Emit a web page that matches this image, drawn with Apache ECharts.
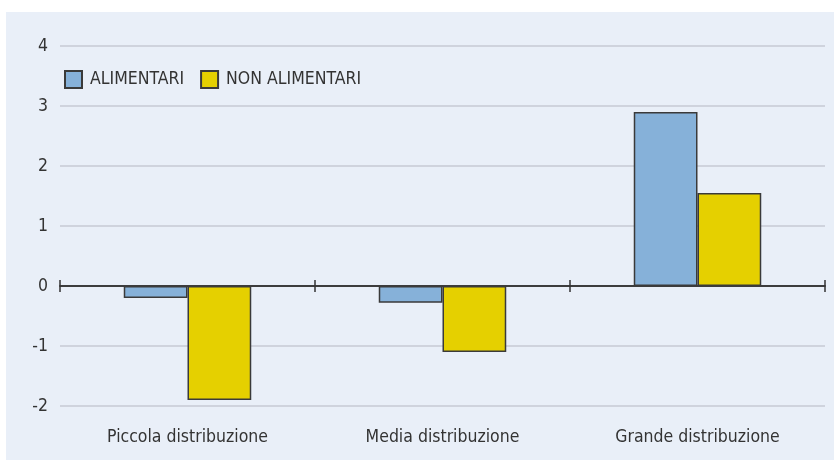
<!DOCTYPE html>
<html>
<head>
<meta charset="utf-8">
<script src="https://cdn.jsdelivr.net/npm/echarts@6/dist/echarts.min.js"></script>
<style>
  html, body { margin: 0; padding: 0; background: #fff; }
  #main { width: 834px; height: 460px; }
</style>
</head>
<body>
<div id="main"></div>
<script>
var categories = ['Piccola distribuzione', 'Media distribuzione', 'Grande distribuzione'];
var alimentari = [-0.2, -0.28, 2.9];
var nonAlimentari = [-1.9, -1.1, 1.55];
var yMin = -2, yMax = 4, yStep = 1;

var FONT = '"DejaVu Sans Condensed", "Liberation Sans", sans-serif';
var TEXT = '#333';
var AXIS = '#333';

var gridPos = { left: 60, right: 9, top: 46, bottom: 54 };

// the zero line carries ticks on both sides, so it is drawn by two extra grids
function zeroAxis(idx, inside) {
  return {
    type: 'category',
    gridIndex: idx,
    data: categories,
    axisLine: { onZero: true, lineStyle: { color: AXIS, width: 1.5 } },
    axisTick: { show: true, inside: inside, length: 6, lineStyle: { color: AXIS, width: 1.5 } },
    axisLabel: { show: false },
    splitLine: { show: false }
  };
}
function hiddenY(idx) {
  return {
    type: 'value', gridIndex: idx, min: yMin, max: yMax, interval: yStep,
    axisLine: { show: false }, axisTick: { show: false },
    axisLabel: { show: false }, splitLine: { show: false }
  };
}

var myChart = echarts.init(document.getElementById('main'));
var option = {
  backgroundColor: '#fff',
  animation: false,
  graphic: [{
    type: 'rect',
    z: -10,
    shape: { x: 6, y: 12, width: 828, height: 448 },
    style: { fill: '#e9eff8' }
  }],
  legend: {
    left: 64,
    top: 70,
    padding: 0,
    itemWidth: 17,
    itemHeight: 17,
    itemGap: 16,
    icon: 'rect',
    textStyle: { fontFamily: FONT, fontSize: 17.5, color: TEXT, padding: [0, 0, 0, 3] },
    data: ['ALIMENTARI', 'NON ALIMENTARI']
  },
  grid: [gridPos, gridPos, gridPos],
  xAxis: [{
    type: 'category',
    gridIndex: 0,
    data: categories,
    position: 'bottom',
    axisLine: { show: false, onZero: false },
    axisTick: { show: false },
    axisLabel: { fontFamily: FONT, fontSize: 17.5, color: TEXT, margin: 22 }
  }, zeroAxis(1, false), zeroAxis(2, true)],
  yAxis: [{
    type: 'value',
    gridIndex: 0,
    min: yMin,
    max: yMax,
    interval: yStep,
    axisLine: { show: false },
    axisTick: { show: false },
    axisLabel: { fontFamily: FONT, fontSize: 17.5, color: TEXT, margin: 12 },
    splitLine: { lineStyle: { color: '#c6cad4', width: 1.5 } }
  }, hiddenY(1), hiddenY(2)],
  series: [{
    name: 'ALIMENTARI',
    type: 'bar',
    barGap: '0%',
    barCategoryGap: '50%',
    itemStyle: { color: '#86b1d9', borderColor: '#3a3a3a', borderWidth: 1.5 },
    data: alimentari
  }, {
    name: 'NON ALIMENTARI',
    type: 'bar',
    barGap: '0%',
    barCategoryGap: '50%',
    itemStyle: { color: '#e5d000', borderColor: '#3a3a3a', borderWidth: 1.5 },
    data: nonAlimentari
  }]
};
myChart.setOption(option);
</script>
</body>
</html>
